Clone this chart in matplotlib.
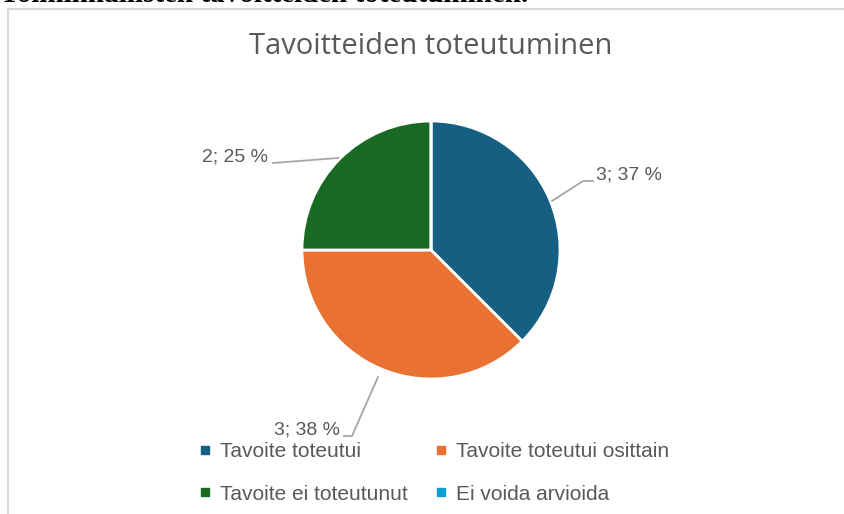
import matplotlib.pyplot as plt
from matplotlib.lines import Line2D
from matplotlib.patches import Rectangle

# data
categories = ["Tavoite toteutui", "Tavoite toteutui osittain",
              "Tavoite ei toteutunut", "Ei voida arvioida"]
counts = [3, 3, 2, 0]
label_texts = ["3; 37 %", "3; 38 %", "2; 25 %"]
colors = ["#156082", "#E97132", "#196B24", "#0F9ED5"]
title = "Tavoitteiden toteutuminen"

W, H = 845, 514
GREY = "#595959"
FONT = "Liberation Sans"

fig = plt.figure(figsize=(W / 100, H / 100), dpi=100)
ax = fig.add_axes([0, 0, 1, 1])

# chart frame (only top and left edges fall inside the crop)
ax.add_patch(Rectangle((8, -5), W + 20, H - 9 + 5, fill=False,
                       edgecolor="#d9d9d9", lw=1.5))

# heading of the surrounding document, cut off by the crop
fig.text(0.0, 1 - 1.5 / H, "Toiminnallisten tavoitteiden toteutuminen.",
         fontsize=21, fontweight="bold", family="Liberation Serif",
         va="baseline", ha="left")

cx, cy, r = 431, H - 250, 129
wedges, _ = ax.pie(counts, colors=colors, startangle=90, counterclock=False,
                   center=(cx, cy), radius=r, frame=True,
                   wedgeprops=dict(edgecolor="white", linewidth=2))
ax.set_xlim(0, W)
ax.set_ylim(0, H)
ax.set_aspect("equal")
ax.axis("off")

ax.text(431, H - 47, title, ha="center", va="center", fontsize=21,
        color=GREY, family="Open Sans")

# data labels with leader lines: (text x, text y, ha, line points)
lab_pos = [
    (596, H - 175, "left", [(552, H - 201), (583, H - 181), (593, H - 181)]),
    (340, H - 430, "right", [(378, H - 377), (352, H - 436), (344, H - 436)]),
    (268, H - 157, "right", [(338, H - 158), (273, H - 163)]),
]
for txt, (x, y, ha, pts) in zip(label_texts, lab_pos):
    ax.text(x, y, txt, ha=ha, va="center", fontsize=14, color=GREY,
            family=FONT)
    xs, ys = zip(*pts)
    ax.plot(xs, ys, color="#a6a6a6", lw=1.3)

# legend filled row by row (matplotlib fills columns first)
order = [0, 2, 1, 3]
handles = [Line2D([], [], marker="s", ls="", markersize=5.5, color=colors[i])
           for i in order]
leg = fig.legend(handles, [categories[i] for i in order], ncol=2,
                 loc="upper left", bbox_to_anchor=(198 / W, 1 - 442 / H),
                 borderaxespad=0, borderpad=0,
                 frameon=False, prop=dict(family=FONT, size=15),
                 labelcolor=GREY, handlelength=0.7, handletextpad=0.35,
                 columnspacing=1.27, labelspacing=1.13)

fig.savefig("out.png", dpi=100)
